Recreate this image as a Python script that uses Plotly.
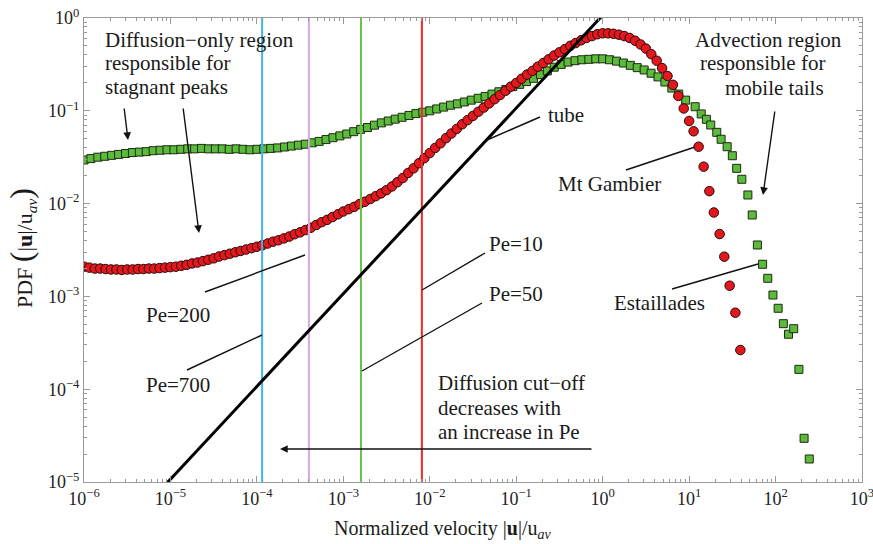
import plotly.graph_objects as go

# ---------------- data (log10 values) ----------------
# Estaillades (green squares): log10(|u|/u_av), log10(PDF)
estaillades_log_u = [
    -6.00, -5.92, -5.84, -5.76, -5.68, -5.60, -5.52, -5.44, -5.36, -5.28,
    -5.20, -5.12, -5.04, -4.96, -4.88, -4.80, -4.72, -4.64, -4.56, -4.48,
    -4.40, -4.32, -4.24, -4.16, -4.08, -4.00, -3.92, -3.84, -3.76, -3.68,
    -3.60, -3.52, -3.44, -3.36, -3.28, -3.20, -3.12, -3.04, -2.96, -2.88,
    -2.80, -2.72, -2.64, -2.56, -2.48, -2.40, -2.32, -2.24, -2.16, -2.08,
    -2.00, -1.92, -1.84, -1.76, -1.68, -1.60, -1.52, -1.44, -1.36, -1.28,
    -1.20, -1.12, -1.04, -0.96, -0.88, -0.80, -0.72, -0.64, -0.56, -0.48,
    -0.40, -0.32, -0.24, -0.16, -0.08, 0.00, 0.08, 0.16, 0.24, 0.32,
    0.40, 0.48, 0.56, 0.64, 0.72, 0.80, 0.88, 0.96,
    1.07, 1.14, 1.20, 1.25, 1.32, 1.37, 1.44, 1.50, 1.55, 1.61, 1.68, 1.73,
    1.79, 1.85, 1.91, 1.97, 2.03, 2.09, 2.15, 2.21, 2.27, 2.33, 2.39,
]
estaillades_log_pdf = [
    -1.53, -1.515, -1.50, -1.49, -1.48, -1.47, -1.46, -1.45, -1.445, -1.44,
    -1.43, -1.425, -1.42, -1.42, -1.415, -1.41, -1.41, -1.405, -1.41, -1.41,
    -1.41, -1.415, -1.41, -1.415, -1.42, -1.415, -1.41, -1.405, -1.40, -1.39,
    -1.38, -1.37, -1.36, -1.345, -1.33, -1.31, -1.29, -1.27, -1.25, -1.225,
    -1.20, -1.18, -1.155, -1.13, -1.11, -1.09, -1.07, -1.05, -1.03, -1.015,
    -1.00, -0.98, -0.96, -0.94, -0.925, -0.905, -0.885, -0.865, -0.845, -0.82,
    -0.795, -0.77, -0.74, -0.715, -0.685, -0.65, -0.61, -0.57, -0.53, -0.50,
    -0.475, -0.46, -0.45, -0.445, -0.44, -0.44, -0.45, -0.465, -0.485, -0.51,
    -0.535, -0.56, -0.595, -0.635, -0.69, -0.755, -0.82, -0.885,
    -0.956, -1.034, -1.092, -1.153, -1.232, -1.307, -1.387, -1.484, -1.620, -1.738, -1.907, -2.123,
    -2.446, -2.654, -2.805, -2.985, -3.128, -3.294, -3.408, -3.348, -3.786, -4.529, -4.752,
]

# Mt Gambier (red circles)
gambier_log_u = [
    -6.0000, -5.9375, -5.8750, -5.8125, -5.7500, -5.6875, -5.6250, -5.5625, -5.5000, -5.4375,
    -5.3750, -5.3125, -5.2500, -5.1875, -5.1250, -5.0625, -5.0000, -4.9375, -4.8750, -4.8125,
    -4.7500, -4.6875, -4.6250, -4.5625, -4.5000, -4.4375, -4.3750, -4.3125, -4.2500, -4.1875,
    -4.1250, -4.0625, -4.0000, -3.9375, -3.8750, -3.8125, -3.7500, -3.6875, -3.6250, -3.5625,
    -3.5000, -3.4375, -3.3750, -3.3125, -3.2500, -3.1875, -3.1250, -3.0625, -3.0000, -2.9375,
    -2.8750, -2.8125, -2.7500, -2.6875, -2.6250, -2.5625, -2.5000, -2.4375, -2.3750, -2.3125,
    -2.2500, -2.1875, -2.1250, -2.0625, -2.0000, -1.9375, -1.8750, -1.8125, -1.7500, -1.6875,
    -1.6250, -1.5625, -1.5000, -1.4375, -1.3750, -1.3125, -1.2500, -1.1875, -1.1250, -1.0625,
    -1.0000, -0.9375, -0.8750, -0.8125, -0.7500, -0.6875, -0.6250, -0.5625, -0.5000, -0.4375,
    -0.3750, -0.3125, -0.2500, -0.1875, -0.1250, -0.0625, 0.0000, 0.0625, 0.1250, 0.1875,
    0.2500, 0.3125, 0.3750, 0.4375, 0.5000, 0.5625, 0.6250, 0.6875, 0.7500, 0.8125,
    0.8750, 0.9375, 1.0000,
    1.052, 1.110, 1.168, 1.234, 1.286, 1.353, 1.407, 1.469, 1.535, 1.593,
]
gambier_log_pdf = [
    -2.68, -2.69, -2.70, -2.70, -2.705, -2.71, -2.71, -2.715, -2.71, -2.71,
    -2.705, -2.705, -2.70, -2.70, -2.695, -2.69, -2.685, -2.68, -2.67, -2.66,
    -2.645, -2.635, -2.62, -2.605, -2.59, -2.57, -2.555, -2.54, -2.525, -2.51,
    -2.495, -2.48, -2.465, -2.45, -2.43, -2.41, -2.395, -2.375, -2.355, -2.33,
    -2.31, -2.285, -2.26, -2.23, -2.20, -2.175, -2.145, -2.115, -2.085, -2.06,
    -2.035, -2.005, -1.98, -1.95, -1.92, -1.89, -1.855, -1.815, -1.77, -1.725,
    -1.67, -1.62, -1.565, -1.51, -1.455, -1.40, -1.35, -1.295, -1.245, -1.195,
    -1.145, -1.10, -1.055, -1.01, -0.965, -0.92, -0.875, -0.83, -0.785, -0.74,
    -0.70, -0.655, -0.61, -0.57, -0.525, -0.485, -0.445, -0.405, -0.37, -0.335,
    -0.30, -0.27, -0.24, -0.215, -0.195, -0.175, -0.165, -0.165, -0.17, -0.18,
    -0.195, -0.215, -0.245, -0.285, -0.33, -0.39, -0.46, -0.54, -0.625, -0.72,
    -0.84, -0.975, -1.11,
    -1.221, -1.387, -1.602, -1.866, -2.096, -2.328, -2.572, -2.885, -3.176, -3.578,
]

# tube reference line (PDF proportional to velocity)
tube_u = [1e-6, 1e3]
tube_pdf = [1.07e-6, 1.07e3]

# diffusion cut-off velocities for each Peclet number
peclet_labels = ["Pe=10", "Pe=50", "Pe=200", "Pe=700"]
peclet_cutoff_u = [8.1e-3, 1.6e-3, 4.0e-4, 1.15e-4]
peclet_colors = ["#ec2a2a", "#6cc04a", "#d6aadc", "#3cb6e6"]

x_tick_vals = [1e-6, 1e-5, 1e-4, 1e-3, 1e-2, 1e-1, 1e0, 1e1, 1e2, 1e3]
x_tick_text = ["10<sup>−6</sup>", "10<sup>−5</sup>", "10<sup>−4</sup>", "10<sup>−3</sup>",
               "10<sup>−2</sup>", "10<sup>−1</sup>", "10<sup>0</sup>", "10<sup>1</sup>",
               "10<sup>2</sup>", "10<sup>3</sup>"]
y_tick_vals = [1e-5, 1e-4, 1e-3, 1e-2, 1e-1, 1e0]
y_tick_text = ["10<sup>−5</sup>", "10<sup>−4</sup>", "10<sup>−3</sup>", "10<sup>−2</sup>",
               "10<sup>−1</sup>", "10<sup>0</sup>"]

# ---------------- layout geometry ----------------
FIG_W, FIG_H = 873, 544
L, T, R, B = 84, 18, 862, 482
FONT = "Liberation Serif, Times New Roman, serif"


def paper(px, py):
    return (px - L) / (R - L), (B - py) / (B - T)


fig = go.Figure()

fig.add_trace(go.Scatter(
    x=[10 ** v for v in estaillades_log_u], y=[10 ** v for v in estaillades_log_pdf],
    mode="markers", name="Estaillades",
    marker=dict(symbol="square", size=8, color="#5dbb3c", line=dict(color="#1b2a12", width=1)),
))
fig.add_trace(go.Scatter(
    x=[10 ** v for v in gambier_log_u], y=[10 ** v for v in gambier_log_pdf],
    mode="markers", name="Mt Gambier",
    marker=dict(symbol="circle", size=9.5, color="#e3181d", line=dict(color="#2a0808", width=1)),
))
for u, c in zip(peclet_cutoff_u, peclet_colors):
    fig.add_trace(go.Scatter(x=[u, u], y=[1e-5, 1e0], mode="lines",
                             line=dict(color=c, width=2), hoverinfo="skip"))
fig.add_trace(go.Scatter(x=tube_u, y=tube_pdf, mode="lines",
                         line=dict(color="black", width=3), name="tube"))

axis_common = dict(
    type="log", showgrid=False, zeroline=False, automargin=False,
    ticklabeloverflow="allow",
    showline=True, linecolor="#9a9a9a", linewidth=1, mirror="ticks",
    ticks="inside", ticklen=6, tickcolor="#9a9a9a", tickwidth=1,
    tickfont=dict(family=FONT, size=18, color="#222"),
    tickmode="array",
)
minor_x = [m * 10 ** e for e in range(-6, 3) for m in range(2, 10)]
minor_y = [m * 10 ** e for e in range(-5, 0) for m in range(2, 10)]

fig.update_xaxes(**axis_common, range=[-6, 3], tickvals=x_tick_vals, ticktext=x_tick_text,
                 minor=dict(tickmode="array", tickvals=minor_x, ticks="inside", ticklen=3,
                            tickcolor="#9a9a9a", showgrid=False))
fig.update_yaxes(**axis_common, range=[-5, 0], tickvals=y_tick_vals, ticktext=y_tick_text,
                 minor=dict(tickmode="array", tickvals=minor_y, ticks="inside", ticklen=3,
                            tickcolor="#9a9a9a", showgrid=False))

annotations = []
text_items = [
    ("Diffusion−only region", 103, 40),
    ("responsible for", 103, 63),
    ("stagnant peaks", 103, 87),
    ("Advection region", 693, 40),
    ("responsible for", 698, 63),
    ("mobile tails", 723, 88),
    ("tube", 546, 115),
    ("Mt Gambier", 556, 184),
    ("Estaillades", 612, 303),
    ("Pe=200", 144, 315),
    ("Pe=700", 144, 385),
    ("Pe=10", 487, 244),
    ("Pe=50", 487, 294),
    ("Diffusion cut−off", 436, 383),
    ("decreases with", 436, 408),
    ("an increase in Pe", 436, 432),
]
for txt, px, py in text_items:
    x, y = paper(px, py)
    annotations.append(dict(text=txt, x=x, y=y, xref="paper", yref="paper",
                            xanchor="left", yanchor="middle", showarrow=False,
                            font=dict(family=FONT, size=21, color="#1a1a1a")))

arrows = [
    ((124, 107), (128, 140)),
    ((183, 107), (199, 233)),
    ((775, 110), (763, 195)),
    ((593, 449), (280, 449)),
]
for (tx, ty), (hx, hy) in arrows:
    x, y = paper(hx, hy)
    annotations.append(dict(text="", x=x, y=y, xref="paper", yref="paper",
                            ax=tx - hx, ay=ty - hy, showarrow=True, arrowhead=2,
                            arrowsize=1.1, arrowwidth=1.4, arrowcolor="#111", standoff=0))

# axis titles
x, y = paper(443, 529)
annotations.append(dict(text="Normalized velocity |<b>u</b>|/u<sub><i>av</i></sub>",
                        x=x, y=y, xref="paper", yref="paper", showarrow=False,
                        xanchor="center", yanchor="middle",
                        font=dict(family=FONT, size=20, color="#1a1a1a")))
x, y = paper(21, 248)
annotations.append(dict(text="PDF <span style=\"font-size:32px\">(</span>|<b>u</b>|/u<sub><i>av</i></sub><span style=\"font-size:32px\">)</span>",
                        x=x, y=y, xref="paper", yref="paper", showarrow=False,
                        textangle=-90, xanchor="center", yanchor="middle",
                        font=dict(family=FONT, size=22, color="#1a1a1a")))

shapes = []
pointer_lines = [
    ((540, 117), (487, 140)),
    ((626, 170), (695, 147)),
    ((672, 289), (758, 264)),
    ((205, 292), (305, 255)),
    ((187, 370), (262, 335)),
    ((485, 253), (422, 290)),
    ((482, 303), (362, 371)),
]
for (x0p, y0p), (x1p, y1p) in pointer_lines:
    x0, y0 = paper(x0p, y0p)
    x1, y1 = paper(x1p, y1p)
    shapes.append(dict(type="line", xref="paper", yref="paper", x0=x0, y0=y0, x1=x1, y1=y1,
                       line=dict(color="#111", width=1.4)))

fig.update_layout(
    width=FIG_W, height=FIG_H,
    margin=dict(l=L, r=FIG_W - R, t=T, b=FIG_H - B),
    paper_bgcolor="white", plot_bgcolor="white",
    showlegend=False,
    annotations=annotations, shapes=shapes,
)

fig.write_html("out.html")
